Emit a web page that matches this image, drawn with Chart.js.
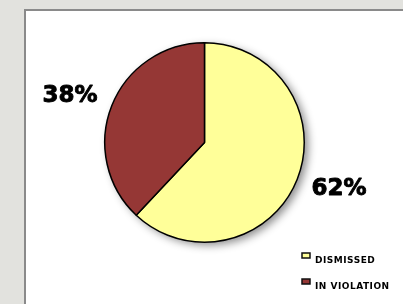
<!DOCTYPE html>
<html>
<head>
<meta charset="utf-8">
<script src="https://cdn.jsdelivr.net/npm/chart.js@4"></script>
<style>
  html, body { margin: 0; padding: 0; background: #e2e2de; }
  #wrap { width: 403px; height: 304px; position: relative; }
</style>
</head>
<body>
<div id="wrap"><canvas id="pieChart" width="403" height="304"></canvas></div>
<script>
// chart data
const categories = ['DISMISSED', 'IN VIOLATION'];
const percents = [62, 38];
const sliceColors = ['#ffff99', '#953735'];

// page background + white panel with grey frame
const panelPlugin = {
    id: 'panel',
    beforeDraw(chart) {
        const ctx = chart.ctx;
        ctx.save();
        ctx.fillStyle = '#e2e2de';
        ctx.fillRect(0, 0, chart.width, chart.height);
        ctx.fillStyle = '#ffffff';
        ctx.fillRect(25, 10, chart.width - 25, chart.height - 10);
        ctx.strokeStyle = '#8a8a8a';
        ctx.lineWidth = 2;
        ctx.beginPath();
        ctx.moveTo(25, chart.height);
        ctx.lineTo(25, 10);
        ctx.lineTo(chart.width, 10);
        ctx.stroke();
        ctx.restore();
    }
};

// soft drop shadow under the whole pie
const shadowPlugin = {
    id: 'pieShadow',
    beforeDatasetsDraw(chart) {
        const arc = chart.getDatasetMeta(0).data[0];
        if (!arc) return;
        const ctx = chart.ctx;
        ctx.save();
        ctx.shadowColor = 'rgba(0,0,0,0.45)';
        ctx.shadowBlur = 9;
        ctx.shadowOffsetX = 4;
        ctx.shadowOffsetY = 3;
        ctx.fillStyle = '#ffffff';
        ctx.beginPath();
        ctx.arc(arc.x, arc.y, arc.outerRadius, 0, Math.PI * 2);
        ctx.fill();
        ctx.restore();
    }
};

// big percentage labels outside each slice
const pctPlugin = {
    id: 'pctLabels',
    afterDatasetsDraw(chart) {
        const ctx = chart.ctx;
        const meta = chart.getDatasetMeta(0);
        ctx.save();
        ctx.font = 'bold 23px "DejaVu Sans", Verdana, sans-serif';
        ctx.fillStyle = '#000000';
        ctx.strokeStyle = '#000000';
        ctx.lineWidth = 0.9;
        ctx.lineJoin = 'round';
        ctx.textAlign = 'center';
        ctx.textBaseline = 'middle';
        meta.data.forEach((arc, i) => {
            const mid = (arc.startAngle + arc.endAngle) / 2;
            const r = arc.outerRadius + 45;
            const x = arc.x + Math.cos(mid) * r;
            const y = arc.y + Math.sin(mid) * r * 0.88;
            ctx.fillText(percents[i] + '%', x, y);
            ctx.strokeText(percents[i] + '%', x, y);
        });
        ctx.restore();
    }
};

// small legend in the lower right corner
const legendPlugin = {
    id: 'cornerLegend',
    afterDraw(chart) {
        const ctx = chart.ctx;
        ctx.save();
        ctx.font = 'bold 9px "DejaVu Sans", Verdana, sans-serif';
        ctx.textBaseline = 'middle';
        ctx.textAlign = 'left';
        categories.forEach((name, i) => {
            const y = 256 + i * 26;
            ctx.fillStyle = sliceColors[i];
            ctx.strokeStyle = '#111111';
            ctx.lineWidth = 1.5;
            ctx.fillRect(302, y - 3, 8, 5);
            ctx.strokeRect(302, y - 3, 8, 5);
            ctx.fillStyle = '#000000';
            ctx.letterSpacing = '0.5px';
            ctx.fillText(name, 315, y + 5);
        });
        ctx.restore();
    }
};

new Chart(document.getElementById('pieChart'), {
    type: 'pie',
    data: {
        labels: categories,
        datasets: [{
            data: percents,
            backgroundColor: sliceColors,
            borderColor: '#000000',
            borderWidth: 1.5
        }]
    },
    options: {
        responsive: false,
        animation: false,
        layout: { padding: { left: 104, right: 98, top: 42, bottom: 61 } },
        plugins: {
            legend: { display: false },
            tooltip: { enabled: false }
        }
    },
    plugins: [panelPlugin, shadowPlugin, pctPlugin, legendPlugin]
});
</script>
</body>
</html>
